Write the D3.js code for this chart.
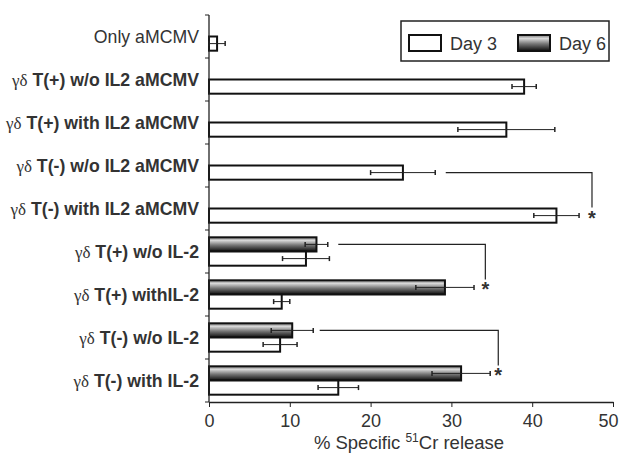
<!DOCTYPE html>
<html>
<head>
<meta charset="utf-8">
<script src="https://cdn.jsdelivr.net/npm/d3@7"></script>
<style>
  body { margin: 0; background: #fff; }
  svg { display: block; font-family: "Liberation Sans", Arial, Helvetica, sans-serif; }
</style>
</head>
<body>
<svg id="chart"></svg>
<script>
// group labels, top to bottom (prefix is the greek part)
const CATEGORIES = [
  { prefix: '', text: 'Only aMCMV' },
  { prefix: 'γδ', text: ' T(+) w/o IL2 aMCMV' },
  { prefix: 'γδ', text: ' T(+) with IL2 aMCMV' },
  { prefix: 'γδ', text: ' T(-) w/o IL2 aMCMV' },
  { prefix: 'γδ', text: ' T(-) with IL2 aMCMV' },
  { prefix: 'γδ', text: ' T(+) w/o IL-2' },
  { prefix: 'γδ', text: ' T(+) withIL-2' },
  { prefix: 'γδ', text: ' T(-) w/o IL-2' },
  { prefix: 'γδ', text: ' T(-) with IL-2' },
];
const SERIES = ['Day 3', 'Day 6'];
const DAY3 = [1.0, 39.0, 36.8, 24.0, 43.0, 12.0, 9.0, 8.8, 16.0];
const DAY3_ERR = [1.0, 1.5, 6.0, 4.0, 2.8, 2.9, 1.0, 2.1, 2.5];
const DAY6 = [null, null, null, null, null, 13.3, 29.2, 10.3, 31.2];
const DAY6_ERR = [null, null, null, null, null, 1.4, 3.6, 2.6, 3.6];
const X_TICKS = [0, 10, 20, 30, 40, 50];
// significance brackets: from row/series to row/series, x from..to
const SIG = [
  { fromRow: 3, toRow: 4, series: 'Day 3', x0: 29.3, x1: 47.4 },
  { fromRow: 5, toRow: 6, series: 'Day 6', x0: 16.0, x1: 34.2 },
  { fromRow: 7, toRow: 8, series: 'Day 6', x0: 13.7, x1: 35.8 },
];

const WIDTH = 619, HEIGHT = 454;
const PLOT = { left: 209, right: 613, top: 15, bottom: 402 };

const svg = d3.select('#chart').attr('width', WIDTH).attr('height', HEIGHT);

const defs = svg.append('defs');
const grad = defs.append('linearGradient')
  .attr('id', 'day6grad')
  .attr('x1', 0).attr('y1', 0).attr('x2', 0).attr('y2', 1);
grad.append('stop').attr('offset', '0%').attr('stop-color', '#7a7a7a');
grad.append('stop').attr('offset', '22%').attr('stop-color', '#d8d8d8');
grad.append('stop').attr('offset', '55%').attr('stop-color', '#777');
grad.append('stop').attr('offset', '100%').attr('stop-color', '#0c0c0c');

const xScale = d3.scaleLinear().domain([0, 50]).range([PLOT.left, PLOT.right]);
const yScale = d3.scaleBand()
  .domain(d3.range(CATEGORIES.length))
  .range([PLOT.top, PLOT.bottom])
  .padding(0);
const inner = d3.scaleBand()
  .domain(['Day 6', 'Day 3'])
  .range([yScale.bandwidth() * 0.17, yScale.bandwidth() * 0.83])
  .padding(0);

const rows = CATEGORIES.map((c, i) => ({
  i,
  bars: [
    { series: 'Day 6', value: DAY6[i], err: DAY6_ERR[i] },
    { series: 'Day 3', value: DAY3[i], err: DAY3_ERR[i] },
  ].filter(b => b.value != null),
}));

const barY = (row, series) => yScale(row) + inner(series);
const barMid = (row, series) => barY(row, series) + inner.bandwidth() / 2;

// bars
const groups = svg.append('g').selectAll('g.row')
  .data(rows)
  .enter()
  .append('g')
  .attr('class', 'row');

groups.selectAll('rect')
  .data(d => d.bars.map(b => ({ ...b, row: d.i })))
  .enter()
  .append('rect')
  .attr('x', xScale(0))
  .attr('y', d => barY(d.row, d.series))
  .attr('width', d => xScale(d.value) - xScale(0))
  .attr('height', inner.bandwidth())
  .attr('fill', d => d.series === 'Day 6' ? 'url(#day6grad)' : '#fff')
  .attr('stroke', '#111')
  .attr('stroke-width', 2);

// error bars
const errs = groups.selectAll('g.err')
  .data(d => d.bars.map(b => ({ ...b, row: d.i })))
  .enter()
  .append('g')
  .attr('class', 'err')
  .attr('stroke', '#222')
  .attr('stroke-width', 1);

errs.append('line')
  .attr('x1', d => xScale(d.value - d.err))
  .attr('x2', d => xScale(d.value + d.err))
  .attr('y1', d => barMid(d.row, d.series))
  .attr('y2', d => barMid(d.row, d.series));
errs.selectAll('line.cap')
  .data(d => [d.value - d.err, d.value + d.err].map(v => ({ v, row: d.row, series: d.series })))
  .enter()
  .append('line')
  .attr('class', 'cap')
  .attr('x1', d => xScale(d.v))
  .attr('x2', d => xScale(d.v))
  .attr('y1', d => barMid(d.row, d.series) - 2.5)
  .attr('y2', d => barMid(d.row, d.series) + 2.5)
  .attr('stroke-width', 1.5);

// significance brackets
const sig = svg.append('g').selectAll('g.sig')
  .data(SIG)
  .enter()
  .append('g')
  .attr('class', 'sig');
sig.append('path')
  .attr('fill', 'none')
  .attr('stroke', '#222')
  .attr('stroke-width', 1.2)
  .attr('d', d => {
    const y0 = barMid(d.fromRow, d.series);
    const y1 = barMid(d.toRow, d.series) - 8;
    return `M${xScale(d.x0)},${y0}H${xScale(d.x1)}V${y1}`;
  });
sig.append('text')
  .attr('x', d => xScale(d.x1))
  .attr('y', d => barMid(d.toRow, d.series) + 9)
  .attr('text-anchor', 'middle')
  .attr('font-size', 20)
  .attr('font-weight', 'bold')
  .attr('fill', '#333')
  .text('*');

// x axis
const xAxis = svg.append('g')
  .attr('transform', `translate(0,${PLOT.bottom})`)
  .call(d3.axisBottom(xScale).tickValues(X_TICKS).tickSize(5).tickSizeOuter(0).tickPadding(7));
xAxis.select('.domain').attr('stroke', '#222').attr('stroke-width', 1.3);
xAxis.selectAll('.tick line').attr('stroke', '#222');
xAxis.selectAll('.tick text')
  .attr('font-size', 18)
  .attr('font-family', '"Liberation Sans", Arial, sans-serif')
  .attr('fill', '#333')
  .attr('dx', d => d === 50 ? -5 : 0);

// y axis: ticks at band boundaries
const yAxis = svg.append('g');
yAxis.append('line')
  .attr('x1', xScale(0)).attr('x2', xScale(0))
  .attr('y1', PLOT.top).attr('y2', PLOT.bottom)
  .attr('stroke', '#222').attr('stroke-width', 1.3);
yAxis.selectAll('line.ytick')
  .data(d3.range(CATEGORIES.length + 1))
  .enter()
  .append('line')
  .attr('class', 'ytick')
  .attr('x1', xScale(0) - 4).attr('x2', xScale(0))
  .attr('y1', i => i < CATEGORIES.length ? yScale(i) : PLOT.bottom)
  .attr('y2', i => i < CATEGORIES.length ? yScale(i) : PLOT.bottom)
  .attr('stroke', '#222');

const labels = svg.append('g').selectAll('text.cat')
  .data(CATEGORIES)
  .enter()
  .append('text')
  .attr('class', 'cat')
  .attr('x', 199)
  .attr('y', (d, i) => yScale(i) + yScale.bandwidth() / 2 + 6)
  .attr('text-anchor', 'end')
  .attr('font-size', 17.7)
  .attr('fill', '#333');
labels.append('tspan')
  .attr('font-family', '"Liberation Serif", "DejaVu Serif", serif')
  .attr('font-size', 17)
  .text(d => d.prefix);
labels.append('tspan')
  .attr('font-weight', (d, i) => i === 0 ? 'normal' : 'bold')
  .text(d => d.text);

// x axis title
const title = svg.append('text')
  .attr('x', 409)
  .attr('y', 449)
  .attr('text-anchor', 'middle')
  .attr('font-size', 18.5)
  .attr('fill', '#333');
title.append('tspan').text('% Specific ');
title.append('tspan').attr('font-size', 12).attr('dy', -7).text('51');
title.append('tspan').attr('dy', 7).text('Cr release');

// legend
const legend = svg.append('g').attr('transform', 'translate(401,21)');
legend.append('rect')
  .attr('width', 208).attr('height', 40)
  .attr('fill', '#fff').attr('stroke', '#222').attr('stroke-width', 1.5);
const items = legend.selectAll('g.item')
  .data(SERIES)
  .enter()
  .append('g')
  .attr('class', 'item')
  .attr('transform', (d, i) => `translate(${8 + i * 109},14)`);
items.append('rect')
  .attr('width', 32).attr('height', 16)
  .attr('fill', d => d === 'Day 6' ? 'url(#day6grad)' : '#fff')
  .attr('stroke', '#111').attr('stroke-width', 2);
items.append('text')
  .attr('x', 41).attr('y', 15)
  .attr('font-size', 18)
  .attr('fill', '#333')
  .text(d => d);
</script>
</body>
</html>
